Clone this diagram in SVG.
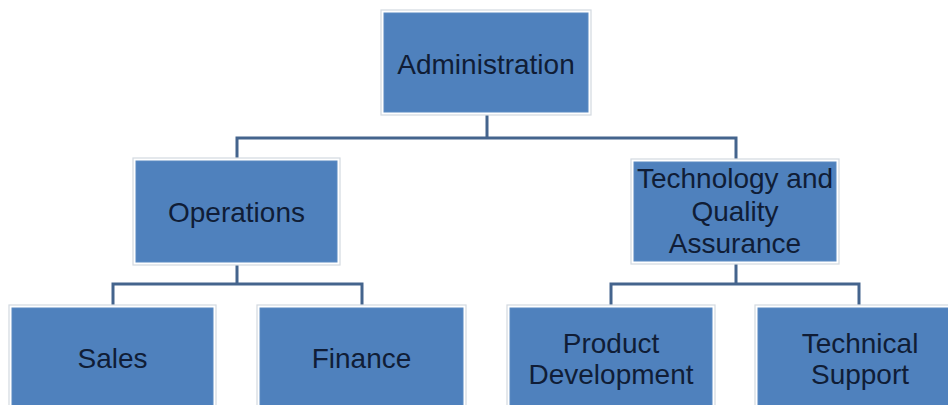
<svg xmlns="http://www.w3.org/2000/svg" width="948" height="405" viewBox="0 0 948 405">
  <style>
    .frame { fill: #ffffff; stroke: #d3d9e0; stroke-width: 1.2; }
    .box { fill: #4f81bd; stroke: #5a8ac2; stroke-width: 1; }
    .lbl { font-family: "Liberation Sans", Arial, sans-serif; font-size: 28px; fill: #101d36; text-anchor: middle; }
    .conn { fill: none; stroke: #44648d; stroke-width: 3; stroke-linejoin: miter; }
  </style>
  <rect width="948" height="405" fill="#ffffff"/>
  <g id="connectors">
    <path class="conn" d="M487,112 V138 M237,161 V138 H736 V162"/>
    <path class="conn" d="M237,262 V284 M113,307 V284 H362 V307"/>
    <path class="conn" d="M736,261 V284 M611,307 V284 H859 V307"/>
  </g>
  <g id="administration">
    <rect class="frame" x="381" y="10" width="210" height="105"/>
    <rect class="box" x="384" y="13" width="204" height="99"/>
    <text class="lbl" x="486" y="74">Administration</text>
  </g>
  <g id="operations">
    <rect class="frame" x="133" y="158" width="207" height="107"/>
    <rect class="box" x="136" y="161" width="201" height="101"/>
    <text class="lbl" x="236.5" y="222">Operations</text>
  </g>
  <g id="technology">
    <rect class="frame" x="631" y="159" width="208" height="105"/>
    <rect class="box" x="634" y="162" width="202" height="99"/>
    <text class="lbl" x="735" y="188">Technology and</text>
    <text class="lbl" x="735" y="221">Quality</text>
    <text class="lbl" x="735" y="253">Assurance</text>
  </g>
  <g id="sales">
    <rect class="frame" x="9" y="305" width="207" height="110"/>
    <rect class="box" x="12" y="308" width="201" height="105"/>
    <text class="lbl" x="112.5" y="368">Sales</text>
  </g>
  <g id="finance">
    <rect class="frame" x="257" y="305" width="209" height="110"/>
    <rect class="box" x="260" y="308" width="203" height="105"/>
    <text class="lbl" x="361.5" y="368">Finance</text>
  </g>
  <g id="product-development">
    <rect class="frame" x="507" y="305" width="208" height="110"/>
    <rect class="box" x="510" y="308" width="202" height="105"/>
    <text class="lbl" x="611" y="353">Product</text>
    <text class="lbl" x="611" y="384">Development</text>
  </g>
  <g id="technical-support">
    <rect class="frame" x="755" y="305" width="208" height="110"/>
    <rect class="box" x="758" y="308" width="202" height="105"/>
    <text class="lbl" x="860" y="353">Technical</text>
    <text class="lbl" x="860" y="384">Support</text>
  </g>
</svg>
